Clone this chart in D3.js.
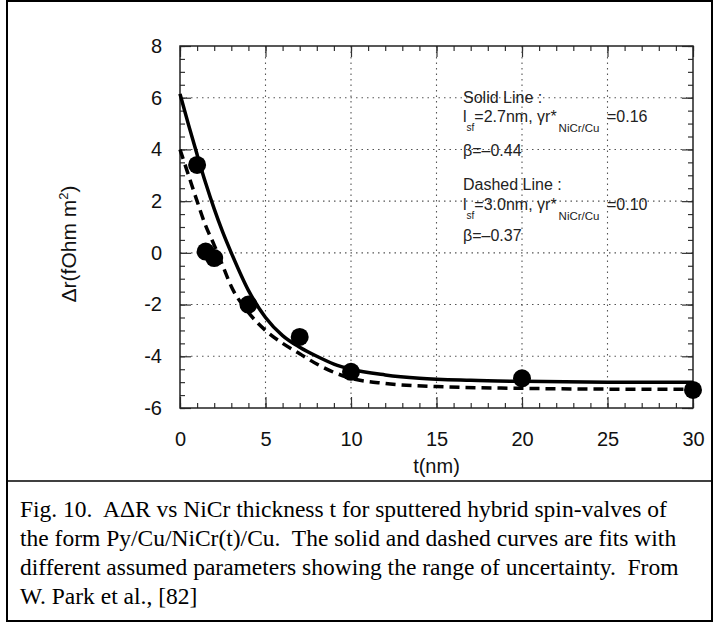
<!DOCTYPE html>
<html>
<head>
<meta charset="utf-8">
<script src="https://cdn.jsdelivr.net/npm/d3@7"></script>
<style>
  html, body { margin: 0; padding: 0; background: #fff; }
  svg { display: block; }
</style>
</head>
<body>
<svg id="chart" width="719" height="625"></svg>
<script>
// ---- data ----
const xTicks = [0, 5, 10, 15, 20, 25, 30];
const yTicks = [-6, -4, -2, 0, 2, 4, 6, 8];
const xMinorTicks = d3.range(0, 31, 1);
const yMinorTicks = d3.range(-6, 8.01, 0.5);

const pointT = [1, 1.5, 2, 4, 7, 10, 20, 30];
const pointR = [3.4, 0.05, -0.2, -2.0, -3.25, -4.6, -4.85, -5.3];

const solidT = [0, 0.5, 1, 1.5, 2, 2.5, 3, 4, 5, 6, 7, 8, 9, 10, 12, 14, 17, 20, 25, 30];
const solidR = [6.15, 4.95, 3.8, 2.7, 1.7, 0.8, 0.0, -1.45, -2.5, -3.2, -3.65, -4.0, -4.3, -4.5, -4.72, -4.85, -4.93, -4.97, -5.0, -5.0];

const dashT = [0, 0.5, 1, 1.5, 2, 2.5, 3, 4, 5, 6, 7, 8, 9, 10, 12, 15, 20, 25, 30];
const dashR = [4.0, 3.0, 2.0, 1.05, 0.3, -0.5, -1.3, -2.3, -3.0, -3.5, -3.9, -4.3, -4.62, -4.85, -5.05, -5.17, -5.24, -5.27, -5.28];

const xTitle = "t(nm)";
const captionLines = [
  "Fig. 10.  A\u0394R vs NiCr thickness t for sputtered hybrid spin-valves of",
  "the form Py/Cu/NiCr(t)/Cu.  The solid and dashed curves are fits with",
  "different assumed parameters showing the range of uncertainty.  From",
  "W. Park et al., [82]"
];

// ---- layout ----
const svg = d3.select("#chart");
const L = 180, R = 693, T = 46, B = 408;
const x = d3.scaleLinear().domain([0, 30]).range([L, R]);
const y = d3.scaleLinear().domain([-6, 8]).range([B, T]);

// outer frame
svg.append("rect").attr("x", 7).attr("y", 1).attr("width", 705).attr("height", 620)
  .attr("fill", "none").attr("stroke", "#000").attr("stroke-width", 2);
// separator
svg.append("line").attr("x1", 7).attr("x2", 712).attr("y1", 481).attr("y2", 481)
  .attr("stroke", "#000").attr("stroke-width", 1.5);

// grid
const grid = svg.append("g").attr("stroke", "#555").attr("stroke-width", 1.1)
  .attr("stroke-dasharray", "1.5,4");
grid.selectAll("line.v").data(xTicks.filter(d => d > 0 && d < 30)).join("line")
  .attr("x1", d => x(d)).attr("x2", d => x(d)).attr("y1", T).attr("y2", B);
grid.selectAll("line.h").data(yTicks.filter(d => d > -6 && d < 8)).join("line")
  .attr("x1", L).attr("x2", R).attr("y1", d => y(d)).attr("y2", d => y(d));

// axes helpers
function styleAxis(g) {
  g.selectAll("path.domain").remove();
  g.selectAll(".tick line").attr("stroke", "#333").attr("stroke-width", 1.2);
  g.selectAll("text").attr("font-family", "'Liberation Sans', Arial, sans-serif")
    .attr("font-size", 20).attr("fill", "#111");
}
// minor ticks
svg.append("g").attr("transform", `translate(0,${B})`)
  .call(d3.axisBottom(x).tickValues(xMinorTicks).tickSizeInner(-5).tickSizeOuter(0).tickFormat(""))
  .call(styleAxis);
svg.append("g").attr("transform", `translate(0,${T})`)
  .call(d3.axisTop(x).tickValues(xMinorTicks).tickSizeInner(-5).tickSizeOuter(0).tickFormat(""))
  .call(styleAxis);
svg.append("g").attr("transform", `translate(${L},0)`)
  .call(d3.axisLeft(y).tickValues(yMinorTicks).tickSizeInner(-5).tickSizeOuter(0).tickFormat(""))
  .call(styleAxis);
svg.append("g").attr("transform", `translate(${R},0)`)
  .call(d3.axisRight(y).tickValues(yMinorTicks).tickSizeInner(-5).tickSizeOuter(0).tickFormat(""))
  .call(styleAxis);
// major ticks + labels
svg.append("g").attr("transform", `translate(0,${B})`)
  .call(d3.axisBottom(x).tickValues(xTicks).tickSizeInner(-11).tickSizeOuter(0).tickPadding(24).tickFormat(d => String(d)))
  .call(styleAxis);
svg.append("g").attr("transform", `translate(0,${T})`)
  .call(d3.axisTop(x).tickValues(xTicks).tickSizeInner(-11).tickSizeOuter(0).tickFormat(""))
  .call(styleAxis);
svg.append("g").attr("transform", `translate(${L},0)`)
  .call(d3.axisLeft(y).tickValues(yTicks).tickSizeInner(-11).tickSizeOuter(0).tickPadding(18).tickFormat(d => String(d)))
  .call(styleAxis);
svg.append("g").attr("transform", `translate(${R},0)`)
  .call(d3.axisRight(y).tickValues(yTicks).tickSizeInner(-11).tickSizeOuter(0).tickFormat(""))
  .call(styleAxis);

// frame
svg.append("rect").attr("x", L).attr("y", T).attr("width", R - L).attr("height", B - T)
  .attr("fill", "none").attr("stroke", "#222").attr("stroke-width", 1.5);

// curves
const line = d3.line().curve(d3.curveMonotoneX).x(d => x(d[0])).y(d => y(d[1]));
svg.append("path").datum(dashT.map((t, i) => [t, dashR[i]]))
  .attr("d", line).attr("fill", "none").attr("stroke", "#000")
  .attr("stroke-width", 3.5).attr("stroke-dasharray", "10,6");
svg.append("path").datum(solidT.map((t, i) => [t, solidR[i]]))
  .attr("d", line).attr("fill", "none").attr("stroke", "#000").attr("stroke-width", 3.5);

// points
svg.append("g").selectAll("circle").data(pointT.map((t, i) => [t, pointR[i]])).join("circle")
  .attr("cx", d => x(d[0])).attr("cy", d => y(d[1])).attr("r", 9).attr("fill", "#000");

// axis titles
svg.append("text").attr("x", (L + R) / 2).attr("y", 473).attr("text-anchor", "middle")
  .attr("font-family", "'Liberation Sans', Arial, sans-serif").attr("font-size", 20).attr("fill", "#111")
  .text(xTitle);
const yt = svg.append("text").attr("transform", "translate(76,244) rotate(-90)")
  .attr("text-anchor", "middle")
  .attr("font-family", "'Liberation Sans', Arial, sans-serif").attr("font-size", 21).attr("fill", "#111");
yt.append("tspan").text("\u0394r(fOhm m");
yt.append("tspan").attr("dy", -8).attr("font-size", 13).text("2");
yt.append("tspan").attr("dy", 8).text(")");

// annotations
const ann = svg.append("g").attr("font-family", "'Liberation Sans', Arial, sans-serif")
  .attr("font-size", 16).attr("fill", "#222");
function paramLine(yb, lsf, val) {
  const t = ann.append("text").attr("x", 463).attr("y", yb);
  t.append("tspan").text("l");
  t.append("tspan").attr("dy", 9).attr("font-size", 10).text("sf");
  t.append("tspan").attr("dy", -9).text("=" + lsf + ",  \u03b3r*");
  t.append("tspan").attr("dy", 10).attr("dx", 2).attr("font-size", 11.5).text("NiCr/Cu");
  t.append("tspan").attr("dy", -10).attr("x", 607).text("=" + val);
}
ann.append("text").attr("x", 463).attr("y", 103).text("Solid Line :");
paramLine(122, "2.7nm", "0.16");
ann.append("text").attr("x", 463).attr("y", 156).text("\u03b2=\u20130.44");
ann.append("text").attr("x", 463).attr("y", 190).text("Dashed Line :");
paramLine(210, "3.0nm", "0.10");
ann.append("text").attr("x", 463).attr("y", 241).text("\u03b2=\u20130.37");

// caption
const cap = svg.append("g").attr("font-family", "'Liberation Serif', 'Times New Roman', serif")
  .attr("font-size", 23.5).attr("fill", "#000");
captionLines.forEach((s, i) => {
  cap.append("text").attr("x", 20).attr("y", 517 + i * 29).attr("xml:space", "preserve")
    .style("white-space", "pre").text(s);
});
</script>
</body>
</html>
